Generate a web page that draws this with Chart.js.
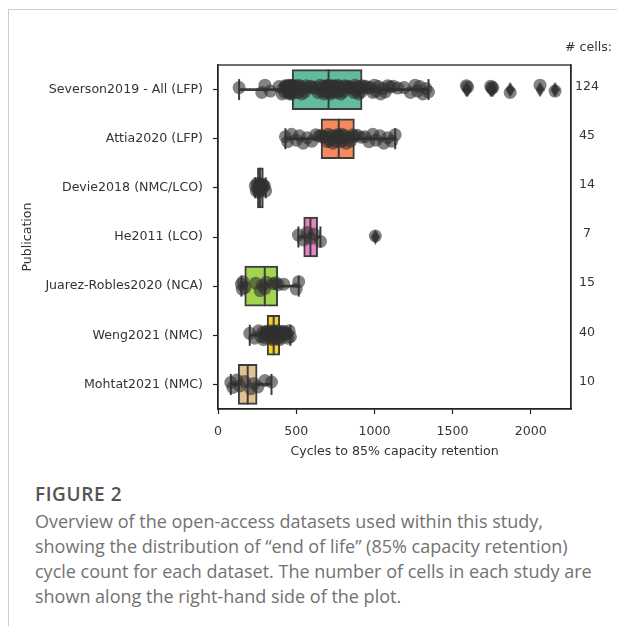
<!DOCTYPE html>
<html>
<head>
<meta charset="utf-8">
<script src="https://cdn.jsdelivr.net/npm/chart.js@4.4.1/dist/chart.umd.min.js"></script>
<style>
  html, body { margin: 0; padding: 0; background: #fff; }
  body { width: 617px; height: 626px; position: relative; overflow: hidden; }
  #frame { position: absolute; left: 8px; top: 9px; right: 0; bottom: 0;
           border-top: 1px solid #cfcfcf; border-left: 1px solid #cfcfcf; }
  #plot { position: absolute; left: 0; top: 0; }
  #caption { position: absolute; left: 35px; top: 482px; font-family: "Open Sans", Lato, sans-serif;
             color: #727272; font-size: 18px; line-height: 25px; white-space: nowrap; }
  #caption .fig { color: #555; font-weight: 600; font-size: 19px; letter-spacing: 0.6px; margin-bottom: 2px; }
</style>
</head>
<body>
<div id="frame"></div>
<canvas id="plot" width="617" height="470"></canvas>
<div id="caption">
  <div class="fig">FIGURE 2</div>
  <div>Overview of the open-access datasets used within this study,</div>
  <div>showing the distribution of “end of life” (85% capacity retention)</div>
  <div>cycle count for each dataset. The number of cells in each study are</div>
  <div>shown along the right-hand side of the plot.</div>
</div>
<script>
// Datasets and number of cells in each
const PUBLICATIONS = ['Severson2019 - All (LFP)', 'Attia2020 (LFP)', 'Devie2018 (NMC/LCO)', 'He2011 (LCO)',
                      'Juarez-Robles2020 (NCA)', 'Weng2021 (NMC)', 'Mohtat2021 (NMC)'];
const CELL_COUNTS = ['124', '45', '14', '7', '15', '40', '10'];
const X_TICKS = [0, 500, 1000, 1500, 2000];

// Box summaries: cycles to 85% capacity retention
const Q1         = [474, 659, 252, 548, 171, 314, 129];
const MEDIAN     = [707, 772, 268, 591, 299, 356, 190];
const Q3         = [921, 872, 290, 637, 382, 395, 250];
const WHISKER_LO = [135, 431, 238, 514, 150, 203, 82];
const WHISKER_HI = [1346, 1133, 305, 655, 516, 463, 342];
const FLIERS     = [[1588, 1596, 1744, 1750, 1757, 1868, 2059, 2155], [], [], [1006], [], [], []];

// Cycle life of every cell, per dataset
const SEVERSON = [135, 280, 300, 335, 390, 410, 418, 425, 430, 435, 438, 442, 445, 448, 450, 452, 455, 457, 459, 461,
                  463, 464, 465, 466, 467, 468, 469, 470, 471, 472, 474,
                  480, 485, 490, 495, 500, 505, 510, 515, 520, 528, 535, 545, 555, 565, 580, 595, 610, 625, 640, 652,
                  662, 670, 678, 684, 690, 694, 697, 700, 702, 704, 707,
                  708, 712, 716, 720, 725, 730, 735, 740, 745, 750, 755, 760, 766, 772, 778, 785, 792, 800, 810, 820,
                  832, 845, 858, 868, 876, 884, 892, 900, 908, 915, 921,
                  930, 945, 960, 975, 990, 1000, 1010, 1025, 1040, 1055, 1070, 1085, 1100, 1120, 1150, 1190, 1230,
                  1260, 1275, 1290, 1310, 1330, 1346, 1588, 1596, 1744, 1750, 1757, 1868, 2059, 2155];
const ATTIA = [431, 445, 470, 500, 520, 545, 570, 600, 625, 645, 659,
               670, 685, 700, 705, 712, 725, 735, 745, 752, 760, 766, 772,
               775, 780, 786, 792, 800, 810, 820, 835, 848, 860, 872,
               890, 915, 940, 965, 990, 1010, 1035, 1060, 1085, 1110, 1133];
const DEVIE = [238, 245, 250, 254, 258, 262, 266, 270, 274, 279, 285, 290, 297, 305];
const HE = [514, 545, 570, 591, 615, 655, 1006];
const JUAREZ = [150, 155, 160, 172, 240, 270, 285, 299, 310, 355, 370, 385, 420, 500, 516];
const WENG = [203, 235, 260, 275, 285, 292, 298, 303, 308, 311,
              316, 322, 328, 333, 338, 342, 346, 350, 353, 355,
              357, 360, 364, 368, 372, 376, 380, 384, 388, 393,
              398, 403, 410, 418, 425, 432, 440, 448, 455, 463];
const MOHTAT = [82, 95, 120, 140, 170, 210, 230, 255, 300, 342];

const BOX_COLORS = ['#62bb9e', '#f68a5e', '#8da0cb', '#e386c4', '#a2d450', '#f5cf2a', '#e2c293'];

const INK = '#3d3d3d';
const TEXT = '#333333';
const FONT = { family: '"DejaVu Sans", sans-serif', size: 12.6 };

// small vertical spread so overlapping cells stay visible
const SPREAD = [-0.04, 0.06, -0.09, 0.03, -0.06, 0.09, -0.02, 0.05, -0.08, -0.05, -0.07, -0.03];

const STRIPS = [SEVERSON, ATTIA, DEVIE, HE, JUAREZ, WENG, MOHTAT];
const cellPoints = STRIPS.flatMap((vals, i) => vals.map((v, k) => ({ x: v, y: i + SPREAD[k % SPREAD.length] })));
const flierPoints = FLIERS.flatMap((vals, i) => vals.map(v => ({ x: v, y: i })));
const medianPoints = MEDIAN.map((m, i) => ({ x: m, y: i }));
const capPoints = WHISKER_LO.map((w, i) => ({ x: w, y: i })).concat(WHISKER_HI.map((w, i) => ({ x: w, y: i })));
const boxBars = Q1.map((q, i) => ({ y: i, x: [q, Q3[i]] }));
const whiskerBars = WHISKER_LO.map((w, i) => ({ y: i, x: [w, WHISKER_HI[i]] }));

// thin diamond marker for fliers
function diamond(w, h, color) {
  const c = document.createElement('canvas');
  c.width = w; c.height = h;
  const g = c.getContext('2d');
  g.fillStyle = color;
  g.beginPath();
  g.moveTo(w / 2, 0); g.lineTo(w, h / 2); g.lineTo(w / 2, h); g.lineTo(0, h / 2);
  g.closePath(); g.fill();
  return c;
}

const framePlugin = {
  id: 'frame',
  afterDraw(chart) {
    const { ctx, chartArea: a } = chart;
    ctx.save();
    ctx.strokeStyle = '#222';
    ctx.lineWidth = 1.3;
    ctx.strokeRect(a.left, a.top, a.right - a.left, a.bottom - a.top);
    ctx.fillStyle = TEXT;
    ctx.font = '12.6px "DejaVu Sans"';
    ctx.textAlign = 'right';
    ctx.textBaseline = 'middle';
    ctx.fillText('# cells:', a.right + 41, a.top - 17);
    ctx.restore();
  }
};

const categoryTicks = axis => { axis.ticks = PUBLICATIONS.map((_, i) => ({ value: i })); };

new Chart(document.getElementById('plot'), {
  type: 'bar',
  data: {
    datasets: [
      { type: 'scatter', data: cellPoints, order: 0, pointRadius: 6.5, pointHoverRadius: 6.5,
        pointBackgroundColor: 'rgba(48,48,48,0.6)', pointBorderWidth: 0 },
      { type: 'scatter', data: flierPoints, order: 1, pointStyle: diamond(9, 15, INK), pointRadius: 7 },
      { type: 'scatter', data: medianPoints, order: 2, pointStyle: 'line', pointRotation: 90, pointRadius: 20,
        pointBorderColor: INK, pointBorderWidth: 2 },
      { type: 'scatter', data: capPoints, order: 3, pointStyle: 'line', pointRotation: 90, pointRadius: 10.5,
        pointBorderColor: INK, pointBorderWidth: 2 },
      { type: 'bar', indexAxis: 'y', data: boxBars, order: 4, grouped: false, barThickness: 40,
        backgroundColor: BOX_COLORS, borderColor: INK, borderWidth: 2, borderSkipped: false },
      { type: 'bar', indexAxis: 'y', data: whiskerBars, order: 5, grouped: false, barThickness: 2,
        backgroundColor: INK, borderWidth: 0 }
    ]
  },
  options: {
    responsive: false,
    animation: false,
    events: [],
    layout: { padding: { left: 16, top: 65, right: 0, bottom: 7 } },
    plugins: { legend: { display: false }, tooltip: { enabled: false } },
    scales: {
      x: {
        type: 'linear', position: 'bottom', min: 0, max: 2257, offset: false,
        afterFit: axis => { axis.height = 54; },
        afterBuildTicks: axis => { axis.ticks = X_TICKS.map(v => ({ value: v })); },
        grid: { display: true, offset: false, drawOnChartArea: false, drawTicks: true, tickLength: 5,
                tickColor: '#222', tickWidth: 1.2 },
        border: { display: true, color: '#222', width: 1.3 },
        ticks: { color: TEXT, font: FONT, padding: 10, maxRotation: 0, callback: v => String(v) },
        title: { display: true, text: 'Cycles to 85% capacity retention', color: TEXT, font: FONT,
                 padding: { top: 4, bottom: 4 } }
      },
      y: {
        type: 'linear', position: 'left', min: -0.5, max: 6.5, reverse: true, offset: false,
        afterFit: axis => { axis.width = 202; },
        afterBuildTicks: categoryTicks,
        grid: { display: true, offset: false, drawOnChartArea: false, drawTicks: true, tickLength: 5,
                tickColor: '#222', tickWidth: 1.2 },
        border: { display: true, color: '#222', width: 1.3 },
        ticks: { color: TEXT, font: FONT, padding: 10, callback: v => PUBLICATIONS[v] },
        title: { display: true, text: 'Publication', color: TEXT, font: FONT, padding: { top: 4, bottom: 4 } }
      },
      y2: {
        type: 'linear', position: 'right', min: -0.5, max: 6.5, reverse: true, offset: false,
        afterFit: axis => { axis.width = 46; },
        afterBuildTicks: categoryTicks,
        grid: { display: false, drawOnChartArea: false, drawTicks: false },
        border: { display: true, color: '#222', width: 1.3 },
        ticks: { color: TEXT, font: FONT, padding: 4, crossAlign: 'center', labelOffset: -3,
                 callback: v => CELL_COUNTS[v] }
      }
    }
  },
  plugins: [framePlugin]
});
</script>
</body>
</html>
